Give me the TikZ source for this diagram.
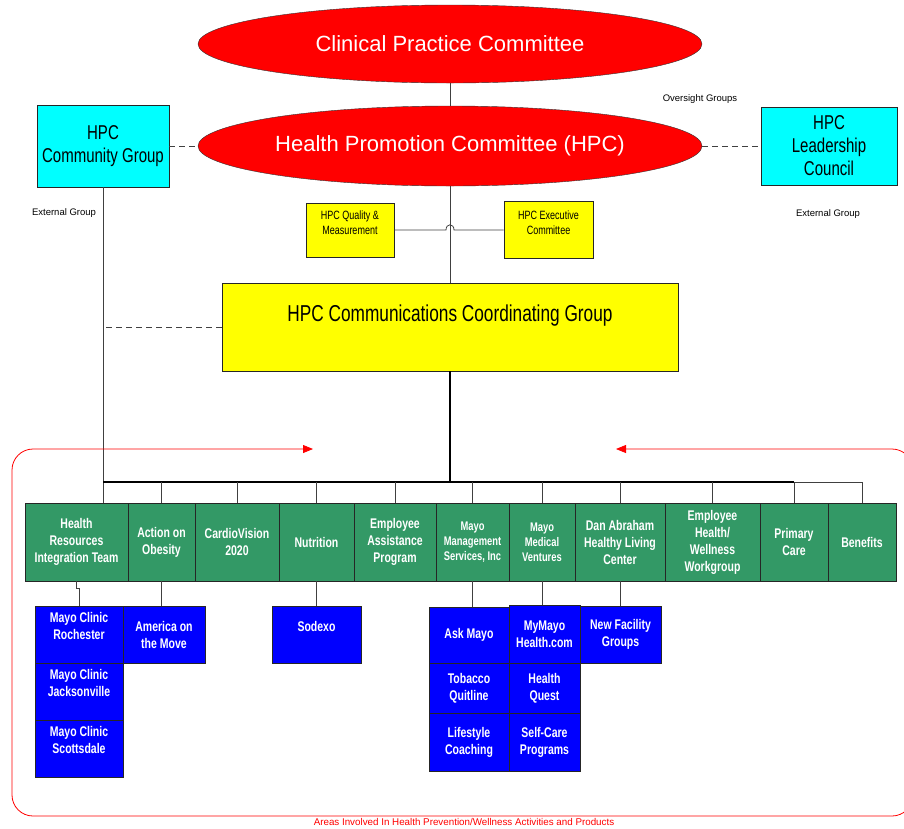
\documentclass[tikz,border=0pt]{standalone}
\usepackage{fontspec}
\setmainfont{Liberation Sans}
\newfontfamily\narrowsf[FakeStretch=0.75]{Liberation Sans}
\usetikzlibrary{shapes.geometric,arrows.meta,calc}

\definecolor{areagreen}{RGB}{51,153,102}
\definecolor{extcyan}{RGB}{0,255,255}
\definecolor{grpyellow}{RGB}{255,255,0}
\definecolor{prodblue}{RGB}{0,0,255}

\tikzset{
  oval/.style={ellipse, draw=black!80, fill=red, text=white, inner sep=0pt,
    minimum width=504, font=\fontsize{22}{26}\selectfont},
  extbox/.style={draw=black!85, line width=0.8pt, fill=extcyan, align=center,
    font=\narrowsf\fontsize{20}{23}\selectfont},
  yelbox/.style={draw=black!85, line width=0.8pt, fill=grpyellow, align=center},
  areabox/.style={draw=black!85, line width=0.8pt, fill=areagreen, text=white, align=center,
    minimum height=78, inner sep=1pt, font=\narrowsf\bfseries\fontsize{14}{17}\selectfont},
  prodbox/.style={draw=black!85, line width=0.8pt, fill=prodblue, text=white, align=center,
    inner sep=1pt, font=\narrowsf\bfseries\fontsize{14}{17}\selectfont},
  link/.style={black!75, line width=0.8pt},
  trunk/.style={black, line width=1.6pt},
  note/.style={font=\fontsize{9.5}{11}\selectfont},
}

\begin{document}
\begin{tikzpicture}[x=1pt,y=-1pt]
\useasboundingbox (0,0) rectangle (904,828);

% committees
\node[oval, minimum height=78] (cpc) at (450,44) {Clinical Practice Committee};
\node[oval, minimum height=80] (hpc) at (450,146) {Health Promotion Committee (HPC)};
\draw[link] (cpc) -- (hpc);

% external groups
\node[extbox, minimum width=132, minimum height=82] (community) at (103,146) {HPC\\Community Group};
\node[extbox, minimum width=136, minimum height=78] (leader) at (829,146) {HPC\\Leadership\\Council};
\draw[link, dash pattern=on 6pt off 4pt] (community) -- (hpc);
\draw[link, dash pattern=on 6pt off 4pt] (hpc) -- (leader);

\node[note] (oversight) at (700,99) {Oversight Groups};
\node[note] (extleft) at (64,213) {External Group};
\node[note] (extright) at (828,214) {External Group};

% HPC sub groups
\node[yelbox, minimum width=88, minimum height=54, font=\narrowsf\fontsize{12}{15}\selectfont] (quality) at (350,230) {HPC Quality \&\\Measurement\\~};
\node[yelbox, minimum width=89, minimum height=57, font=\narrowsf\fontsize{12}{15}\selectfont] (exec) at (548.5,230) {HPC Executive\\Committee\\~};
\draw[link] (quality.east) -- ($(quality.east -| hpc.south)+(-4,0)$)
  .. controls +(0,-7) and +(0,-7) .. ++(8,0) -- (exec.west); % hop over the trunk

\node[yelbox, minimum width=456, minimum height=88, font=\narrowsf\fontsize{23}{27}\selectfont] (ccg) at (450,327) {HPC Communications Coordinating Group\\~};
\draw[link] (hpc) -- (ccg);
\draw[link, dash pattern=on 6pt off 4pt] (ccg.west) -- (ccg.west -| community.south);

% areas involved
\node[areabox, minimum width=103] (hri) at (76.5,542) {Health\\Resources\\Integration Team};
\node[areabox, minimum width=67] (aoo) at (161.5,542) {Action on\\Obesity};
\node[areabox, minimum width=84] (cv) at (237,542) {CardioVision\\2020};
\node[areabox, minimum width=75] (nut) at (316.5,542) {Nutrition};
\node[areabox, minimum width=82] (eap) at (395,542) {Employee\\Assistance\\Program};
\node[areabox, minimum width=73, font=\narrowsf\bfseries\fontsize{12.5}{15}\selectfont] (mms) at (472.5,542) {Mayo\\Management\\Services, Inc};
\node[areabox, minimum width=66, font=\narrowsf\bfseries\fontsize{12.5}{15}\selectfont] (mmv) at (542,542) {Mayo\\Medical\\Ventures};
\node[areabox, minimum width=90] (dan) at (620,542) {Dan Abraham\\Healthy Living\\Center};
\node[areabox, minimum width=95] (ehw) at (712.5,542) {Employee\\Health/\\Wellness\\Workgroup};
\node[areabox, minimum width=68] (pc) at (794,542) {Primary\\Care};
\node[areabox, minimum width=68] (ben) at (862,542) {Benefits};

% tree from the coordinating group
\coordinate (bus) at (450,482);
\draw[link] (community.south) -- (community.south |- hri.north);
\draw[trunk] (ccg.south) -- (bus);
\draw[trunk] (community.south |- bus) -- (pc.north |- bus);
\draw[link] (pc.north |- bus) -- (ben.north |- bus) -- (ben.north);
\foreach \g in {aoo,cv,nut,eap,mms,mmv,dan,ehw,pc}
  \draw[link] (\g.north |- bus) -- (\g.north);

% products and programs
\node[prodbox, minimum width=88, minimum height=57] (roch) at (79,634.5) {Mayo Clinic\\Rochester\\~};
\node[prodbox, minimum width=88, minimum height=57] (jack) at (79,691.5) {Mayo Clinic\\Jacksonville\\~};
\node[prodbox, minimum width=88, minimum height=57] (scot) at (79,748.5) {Mayo Clinic\\Scottsdale\\~};
\node[prodbox, minimum width=82, minimum height=57] (aotm) at (164,634.5) {America on\\the Move};
\node[prodbox, minimum width=89, minimum height=57] (sod) at (316.5,634.5) {Sodexo\\~};
\node[prodbox, minimum width=80, minimum height=56] (ask) at (469,635) {Ask Mayo};
\node[prodbox, minimum width=80, minimum height=50] (tob) at (469,688) {Tobacco\\Quitline};
\node[prodbox, minimum width=80, minimum height=58] (life) at (469,742) {Lifestyle\\Coaching};
\node[prodbox, minimum width=71, minimum height=58] (mym) at (544.5,634) {MyMayo\\Health.com};
\node[prodbox, minimum width=71, minimum height=50] (hq) at (544.5,688) {Health\\Quest};
\node[prodbox, minimum width=71, minimum height=58] (self) at (544.5,742) {Self-Care\\Programs};
\node[prodbox, minimum width=81, minimum height=57] (nfg) at (620.5,634.5) {New Facility\\Groups};

\draw[link] (hri.south) -- ++(0,7) -| (roch.north);
\draw[link] (aoo.south) -- (aoo.south |- aotm.north);
\draw[link] (nut.south) -- (nut.south |- sod.north);
\draw[link] (mms.south) -- (mms.south |- ask.north);
\draw[link] (mmv.south) -- (mmv.south |- mym.north);
\draw[link] (dan.south) -- (dan.south |- nfg.north);

% red frame round the areas
\draw[red, line width=0.8pt, rounded corners=21, {Triangle[length=10pt,width=8pt]}-{Triangle[length=10pt,width=8pt]}]
  (616,449) -- (913,449) -- (913,816) -- (12,816) -- (12,449) -- (313,449);
\node[note, text=red, font=\fontsize{9.8}{11}\selectfont] (areas) at (464,822) {Areas Involved In Health Prevention/Wellness Activities and Products};

\end{tikzpicture}
\end{document}
